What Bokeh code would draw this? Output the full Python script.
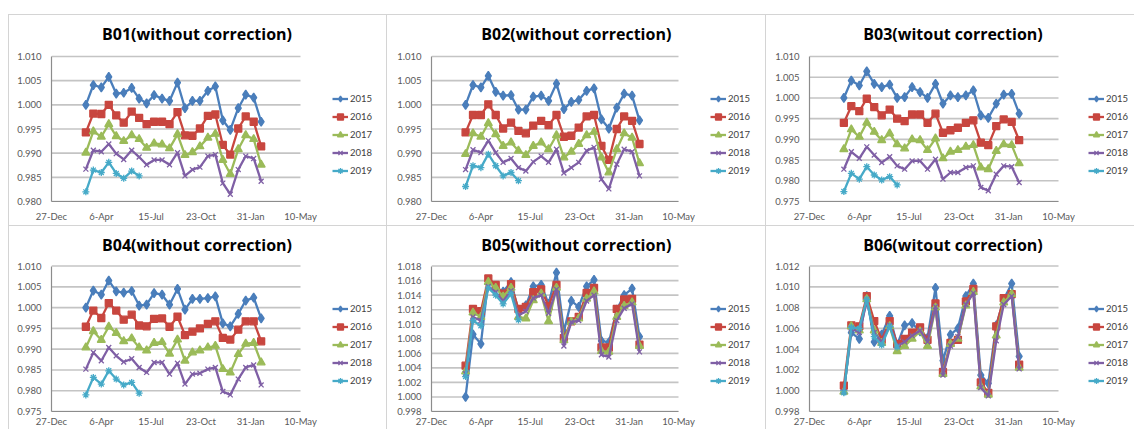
import pandas as pd
from bokeh.plotting import figure
from bokeh.layouts import column, row
from bokeh.models import (Range1d, FixedTicker, NumeralTickFormatter, Legend,
                          LegendItem, Spacer, Label)
from bokeh.embed import file_html
from bokeh.resources import INLINE

# ---------------- data ----------------
DATES = ["2015-03-06", "2015-03-21", "2015-04-06", "2015-04-21", "2015-05-06", "2015-05-21",
         "2015-06-06", "2015-06-21", "2015-07-06", "2015-07-21", "2015-08-06", "2015-08-21",
         "2015-09-06", "2015-09-21", "2015-10-06", "2015-10-21", "2015-11-06", "2015-11-21",
         "2015-12-06", "2015-12-21", "2016-01-06", "2016-01-21", "2016-02-06", "2016-02-21"]
AXIS_START = "2014-12-27"
X_TICKS = [0, 100, 200, 300, 400, 500]
X_TICK_LABELS = ["27-Dec", "6-Apr", "15-Jul", "23-Oct", "31-Jan", "10-May"]
YEARS = ["2015", "2016", "2017", "2018", "2019"]

B01_2015 = [1.0000, 1.0041, 1.0036, 1.0058, 1.0023, 1.0025, 1.0035, 1.0013, 1.0003, 1.0020, 1.0013, 1.0008,
            1.0046, 0.9993, 1.0008, 1.0008, 1.0029, 1.0038, 0.9968, 0.9948, 0.9993, 1.0021, 1.0015, 0.9965]
B01_2016 = [0.9943, 0.9982, 0.9981, 1.0000, 0.9978, 0.9963, 0.9986, 0.9973, 0.9960, 0.9965, 0.9965, 0.9960,
            0.9985, 0.9937, 0.9936, 0.9951, 0.9977, 0.9980, 0.9917, 0.9897, 0.9951, 0.9976, 0.9965, 0.9914]
B01_2017 = [0.9901, 0.9945, 0.9934, 0.9960, 0.9935, 0.9925, 0.9937, 0.9929, 0.9911, 0.9920, 0.9918, 0.9910,
            0.9939, 0.9896, 0.9902, 0.9914, 0.9932, 0.9940, 0.9886, 0.9857, 0.9908, 0.9937, 0.9929, 0.9876]
B01_2018 = [0.9867, 0.9906, 0.9903, 0.9919, 0.9899, 0.9887, 0.9906, 0.9892, 0.9876, 0.9886, 0.9886, 0.9876,
            0.9901, 0.9853, 0.9866, 0.9871, 0.9894, 0.9897, 0.9838, 0.9815, 0.9866, 0.9894, 0.9889, 0.9842]
B01_2019 = [0.9820, 0.9865, 0.9860, 0.9881, 0.9858, 0.9848, 0.9863, 0.9853]

B02_2015 = [1.0000, 1.0041, 1.0036, 1.0060, 1.0027, 1.0019, 1.0020, 0.9990, 0.9990, 1.0017, 1.0019, 1.0008,
            1.0044, 0.9991, 1.0006, 1.0010, 1.0029, 1.0034, 0.9970, 0.9951, 0.9994, 1.0023, 1.0019, 0.9968]
B02_2016 = [0.9943, 0.9979, 0.9979, 1.0001, 0.9979, 0.9951, 0.9963, 0.9946, 0.9941, 0.9957, 0.9967, 0.9958,
            0.9979, 0.9934, 0.9936, 0.9953, 0.9976, 0.9979, 0.9915, 0.9886, 0.9950, 0.9976, 0.9967, 0.9919]
B02_2017 = [0.9898, 0.9941, 0.9934, 0.9962, 0.9939, 0.9915, 0.9922, 0.9905, 0.9896, 0.9915, 0.9922, 0.9908,
            0.9937, 0.9891, 0.9903, 0.9919, 0.9937, 0.9944, 0.9891, 0.9860, 0.9908, 0.9941, 0.9932, 0.9879]
B02_2018 = [0.9866, 0.9907, 0.9901, 0.9926, 0.9901, 0.9881, 0.9889, 0.9870, 0.9863, 0.9882, 0.9894, 0.9881,
            0.9908, 0.9859, 0.9870, 0.9881, 0.9905, 0.9912, 0.9846, 0.9826, 0.9877, 0.9908, 0.9903, 0.9853]
B02_2019 = [0.9831, 0.9874, 0.9870, 0.9898, 0.9874, 0.9853, 0.9860, 0.9843]

B03_2015 = [1.0000, 1.0042, 1.0030, 1.0064, 1.0034, 1.0026, 1.0032, 1.0000, 1.0002, 1.0026, 1.0014, 1.0000,
            1.0034, 0.9986, 1.0006, 1.0002, 1.0006, 1.0018, 0.9958, 0.9952, 0.9986, 1.0008, 1.0010, 0.9962]
B03_2016 = [0.9940, 0.9980, 0.9968, 0.9998, 0.9978, 0.9958, 0.9972, 0.9950, 0.9944, 0.9960, 0.9960, 0.9940,
            0.9962, 0.9916, 0.9922, 0.9928, 0.9940, 0.9946, 0.9892, 0.9886, 0.9932, 0.9948, 0.9942, 0.9898]
B03_2017 = [0.9876, 0.9924, 0.9906, 0.9940, 0.9918, 0.9898, 0.9914, 0.9888, 0.9878, 0.9900, 0.9898, 0.9874,
            0.9902, 0.9854, 0.9870, 0.9874, 0.9882, 0.9886, 0.9832, 0.9828, 0.9872, 0.9888, 0.9886, 0.9842]
B03_2018 = [0.9828, 0.9870, 0.9854, 0.9882, 0.9862, 0.9844, 0.9858, 0.9836, 0.9828, 0.9848, 0.9848, 0.9828,
            0.9852, 0.9804, 0.9820, 0.9820, 0.9832, 0.9836, 0.9784, 0.9776, 0.9816, 0.9836, 0.9834, 0.9796]
B03_2019 = [0.9774, 0.9818, 0.9804, 0.9834, 0.9814, 0.9802, 0.9810, 0.9790]

B04_2015 = [1.0000, 1.0041, 1.0031, 1.0065, 1.0039, 1.0036, 1.0040, 1.0005, 1.0007, 1.0035, 1.0031, 1.0007,
            1.0045, 0.9995, 1.0021, 1.0021, 1.0023, 1.0027, 0.9962, 0.9955, 0.9985, 1.0017, 1.0024, 0.9974]
B04_2016 = [0.9954, 0.9993, 0.9975, 1.0011, 0.9993, 0.9971, 0.9983, 0.9957, 0.9955, 0.9973, 0.9974, 0.9954,
            0.9978, 0.9934, 0.9942, 0.9950, 0.9961, 0.9967, 0.9927, 0.9923, 0.9947, 0.9967, 0.9967, 0.9919]
B04_2017 = [0.9904, 0.9943, 0.9922, 0.9954, 0.9939, 0.9919, 0.9926, 0.9904, 0.9897, 0.9915, 0.9917, 0.9889,
            0.9923, 0.9872, 0.9892, 0.9897, 0.9904, 0.9908, 0.9852, 0.9844, 0.9888, 0.9913, 0.9915, 0.9868]
B04_2018 = [0.9852, 0.9892, 0.9872, 0.9904, 0.9884, 0.9869, 0.9877, 0.9856, 0.9844, 0.9868, 0.9868, 0.9840,
            0.9866, 0.9816, 0.9840, 0.9842, 0.9852, 0.9856, 0.9798, 0.9790, 0.9828, 0.9856, 0.9862, 0.9814]
B04_2019 = [0.9790, 0.9832, 0.9816, 0.9848, 0.9828, 0.9814, 0.9820, 0.9794]

B05_2015 = [1.0000, 1.0086, 1.0073, 1.0161, 1.0150, 1.0145, 1.0158, 1.0118, 1.0126, 1.0152, 1.0154, 1.0128,
            1.0171, 1.0090, 1.0132, 1.0124, 1.0152, 1.0161, 1.0077, 1.0075, 1.0120, 1.0140, 1.0149, 1.0083]
B05_2016 = [1.0043, 1.0121, 1.0118, 1.0163, 1.0154, 1.0142, 1.0155, 1.0121, 1.0124, 1.0144, 1.0148, 1.0125,
            1.0154, 1.0081, 1.0104, 1.0110, 1.0143, 1.0150, 1.0068, 1.0068, 1.0121, 1.0134, 1.0135, 1.0072]
B05_2017 = [1.0035, 1.0116, 1.0110, 1.0158, 1.0150, 1.0138, 1.0150, 1.0110, 1.0108, 1.0133, 1.0142, 1.0104,
            1.0150, 1.0078, 1.0103, 1.0108, 1.0135, 1.0145, 1.0063, 1.0062, 1.0110, 1.0125, 1.0130, 1.0070]
B05_2018 = [1.0032, 1.0110, 1.0105, 1.0152, 1.0144, 1.0132, 1.0146, 1.0112, 1.0118, 1.0136, 1.0140, 1.0115,
            1.0148, 1.0070, 1.0103, 1.0105, 1.0132, 1.0140, 1.0058, 1.0055, 1.0105, 1.0122, 1.0128, 1.0062]
B05_2019 = [1.0028, 1.0105, 1.0098, 1.0150, 1.0140, 1.0128, 1.0142, 1.0106]

B06_2015 = [1.0000, 1.0056, 1.0050, 1.0091, 1.0047, 1.0054, 1.0072, 1.0044, 1.0063, 1.0065, 1.0057, 1.0051,
            1.0099, 1.0029, 1.0054, 1.0060, 1.0091, 1.0103, 1.0015, 1.0007, 1.0063, 1.0088, 1.0103, 1.0033]
B06_2016 = [1.0005, 1.0063, 1.0062, 1.0091, 1.0067, 1.0049, 1.0067, 1.0045, 1.0050, 1.0056, 1.0061, 1.0049,
            1.0084, 1.0018, 1.0046, 1.0049, 1.0086, 1.0098, 1.0008, 0.9998, 1.0062, 1.0089, 1.0093, 1.0025]
B06_2017 = [0.9999, 1.0062, 1.0058, 1.0088, 1.0058, 1.0046, 1.0062, 1.0038, 1.0043, 1.0050, 1.0057, 1.0043,
            1.0080, 1.0016, 1.0045, 1.0050, 1.0082, 1.0095, 1.0004, 0.9996, 1.0053, 1.0085, 1.0093, 1.0022]
B06_2018 = [0.9999, 1.0060, 1.0056, 1.0086, 1.0056, 1.0047, 1.0063, 1.0043, 1.0047, 1.0053, 1.0058, 1.0047,
            1.0081, 1.0015, 1.0043, 1.0052, 1.0083, 1.0094, 1.0003, 0.9995, 1.0048, 1.0083, 1.0091, 1.0021]
B06_2019 = [0.9998, 1.0061, 1.0060, 1.0088, 1.0052, 1.0044, 1.0062, 1.0042]

Y_TICKS_A = [0.980, 0.985, 0.990, 0.995, 1.000, 1.005, 1.010]
Y_TICKS_B = [0.975, 0.980, 0.985, 0.990, 0.995, 1.000, 1.005, 1.010]
Y_TICKS_C = [0.998, 1.000, 1.002, 1.004, 1.006, 1.008, 1.010, 1.012, 1.014, 1.016, 1.018]
Y_TICKS_D = [0.998, 1.000, 1.002, 1.004, 1.006, 1.008, 1.010, 1.012]

TITLES = ["B01(without correction)", "B02(without correction)", "B03(witout correction)",
          "B04(without correction)", "B05(without correction)", "B06(witout correction)"]
SERIES = [
    [B01_2015, B01_2016, B01_2017, B01_2018, B01_2019],
    [B02_2015, B02_2016, B02_2017, B02_2018, B02_2019],
    [B03_2015, B03_2016, B03_2017, B03_2018, B03_2019],
    [B04_2015, B04_2016, B04_2017, B04_2018, B04_2019],
    [B05_2015, B05_2016, B05_2017, B05_2018, B05_2019],
    [B06_2015, B06_2016, B06_2017, B06_2018, B06_2019],
]
Y_TICKS = [Y_TICKS_A, Y_TICKS_A, Y_TICKS_B, Y_TICKS_B, Y_TICKS_C, Y_TICKS_D]

x_days = (pd.to_datetime(DATES) - pd.Timestamp(AXIS_START)).days.to_numpy()

# ---------------- layout / style ----------------
COLORS = ["#4A7EBB", "#C8463F", "#9BBB59", "#7F5FA5", "#46AAC8"]
MARKERS = ["diamond", "square", "triangle", "x", "asterisk"]
MSIZES = [9, 7, 8, 7, 7]
COL_W = [378, 379, 369]
ROW_H = [211, 204]
FRAME_L = [43, 45, 44]          # px from panel left to the value axis
FRAME_SPAN = [249, 247, 249]    # px covered by the 500-day axis
DATA_TOP = [42, 41]             # px from panel top to the top gridline
ROW_BOTTOM = [24, 16]           # px below the date axis
XSTAND = [9, 4]
LEG_X = [281, 279, 279]         # legend glyph left, px from value axis
LEG_Y = [23, 23]                # legend bottom, px above date axis
TITLE_DX = [145.5, 144.8, 143.5]
TITLE_DY = [19, 20]             # title centre, px below panel top
GRID = "#c4c4c4"


def make_panel(k):
    r, c = divmod(k, 3)
    w, h = COL_W[c], ROW_H[r]
    yt = Y_TICKS[k]
    y_lo, y_hi = yt[0], yt[-1]
    data_h = h - ROW_BOTTOM[r] - DATA_TOP[r]
    per_px = (y_hi - y_lo) / data_h
    y_top = y_hi + per_px * DATA_TOP[r]
    x_end = X_TICKS[-1] * (w - FRAME_L[c]) / FRAME_SPAN[c]

    p = figure(width=w, height=h, output_backend="svg", toolbar_location=None,
               x_range=Range1d(0, x_end), y_range=Range1d(y_lo, y_top),
               min_border_left=FRAME_L[c], min_border_right=0,
               min_border_top=0, min_border_bottom=ROW_BOTTOM[r],
               border_fill_color=None, background_fill_color=None, outline_line_color=None)
    p.styles = {"box-shadow": "inset 1px 1px 0 0 #d4d4d4"}
    p.xgrid.visible = False
    p.ygrid.visible = False

    # horizontal gridlines, only across the date axis span
    p.segment(x0=[X_TICKS[0]] * len(yt), y0=yt, x1=[X_TICKS[-1]] * len(yt), y1=yt,
              line_color=GRID, line_width=1.6)

    xa = p.xaxis[0]
    xa.ticker = FixedTicker(ticks=X_TICKS)
    xa.major_label_overrides = {t: s for t, s in zip(X_TICKS, X_TICK_LABELS)}
    xa.bounds = (X_TICKS[0], X_TICKS[-1])
    ya = p.yaxis[0]
    ya.ticker = FixedTicker(ticks=yt)
    ya.formatter = NumeralTickFormatter(format="0.000")
    ya.bounds = (y_lo, y_hi)
    for ax in (xa, ya):
        ax.axis_line_color = "#8c8c8c"
        ax.axis_line_width = 1.2
        ax.major_tick_line_color = None
        ax.minor_tick_line_color = None
        ax.major_tick_out = 0
        ax.major_tick_in = 0
        ax.minor_tick_out = 0
        ax.major_label_text_font = "Lato"
        ax.major_label_text_font_size = "9.5px"
        ax.major_label_text_color = "#595959"
    xa.major_label_standoff = XSTAND[r]
    ya.major_label_standoff = 10

    items = []
    for i, vals in enumerate(SERIES[k]):
        xs = x_days[:len(vals)]
        ln = p.line(xs, vals, line_color=COLORS[i], line_width=2.3)
        mk = p.scatter(xs, vals, marker=MARKERS[i], size=MSIZES[i], fill_color=COLORS[i],
                       line_color=COLORS[i], line_width=1.3)
        items.append(LegendItem(label=YEARS[i], renderers=[ln, mk]))

    leg = Legend(items=items, location=(LEG_X[c], LEG_Y[r]),
                 glyph_width=16, glyph_height=15, label_height=15, label_width=20,
                 spacing=3, padding=0, margin=0, label_standoff=2,
                 border_line_color=None, background_fill_alpha=0,
                 label_text_font="Lato", label_text_font_size="9.5px", label_text_color="#404040")
    p.add_layout(leg)

    p.add_layout(Label(x=TITLE_DX[c] * X_TICKS[-1] / FRAME_SPAN[c],
                       y=y_hi + per_px * (DATA_TOP[r] - TITLE_DY[r]),
                       text=TITLES[k], text_align="center", text_baseline="middle",
                       text_font="Open Sans", text_font_style="bold",
                       text_font_size="16px", text_color="#000000"))
    return p


panels = [make_panel(k) for k in range(6)]
layout = column(Spacer(width=1134, height=14),
                row(Spacer(width=8, height=ROW_H[0]), panels[0], panels[1], panels[2]),
                row(Spacer(width=8, height=ROW_H[1]), panels[3], panels[4], panels[5]))

open("out.html", "w").write(file_html(layout, INLINE))
